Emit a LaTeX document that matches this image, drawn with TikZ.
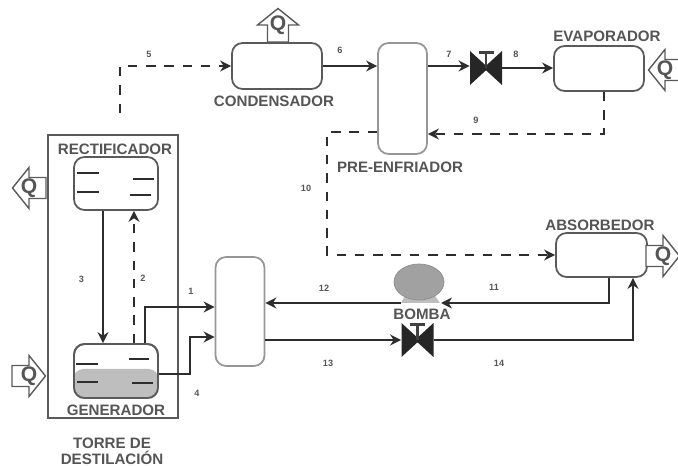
\documentclass[tikz,border=0pt]{standalone}
\usepackage{fontspec}
\setsansfont{Liberation Sans}
\usetikzlibrary{arrows.meta, calc, shapes.geometric}

\definecolor{mTxt}{RGB}{85,85,85}
\definecolor{mEdge}{RGB}{90,90,90}
\definecolor{mPale}{RGB}{150,150,150}
\definecolor{mFill}{RGB}{190,190,190}
\definecolor{mLine}{RGB}{45,45,45}

\begin{document}
\begin{tikzpicture}[
    font=\sffamily\bfseries\fontsize{8.6}{10}\selectfont,
    lbl/.style={text=mTxt, inner sep=0pt},
    num/.style={text=mTxt, inner sep=0pt, font=\sffamily\bfseries\fontsize{5.2}{6}\selectfont},
    unit/.style={draw=mEdge, line width=1pt, rounded corners=6pt, inner sep=0pt, fill=white},
    palebox/.style={draw=mPale, line width=1pt, rounded corners=6pt, inner sep=0pt, fill=white},
    flow/.style={-{Stealth[length=2.2mm,width=2.2mm]}, line width=1.05pt, draw=mLine},
    dashflow/.style={-{Stealth[length=2.2mm,width=2.2mm]}, line width=1.05pt, draw=mLine, dash pattern=on 5.4pt off 5pt},
    tray/.style={line width=0.9pt, draw=mLine},
    qarrow/.pic={
        \draw[draw=mEdge, line width=0.8pt, fill=white] (-0.34,-0.21) -- (0,-0.21) -- (0,-0.41) -- (0.33,0)
            -- (0,0.41) -- (0,0.21) -- (-0.34,0.21) -- cycle;
        \node[text=mTxt, inner sep=0pt, font=\sffamily\bfseries\fontsize{12}{12}\selectfont] (-q) at (0,0) {Q};
    },
    valve/.style={minimum width=6.4mm, minimum height=6.8mm, inner sep=0pt,
        path picture={
            \fill[black!85] (path picture bounding box.north west) -- ($(path picture bounding box.center)+(0.05,0)$)
                -- (path picture bounding box.south west) -- cycle;
            \fill[black!85] (path picture bounding box.north east) -- ($(path picture bounding box.center)+(-0.05,0)$)
                -- (path picture bounding box.south east) -- cycle;
            \draw[black!75, line width=1.6pt] (path picture bounding box.center) -- ($(path picture bounding box.north)+(0,-0.03)$);
            \draw[black!75, line width=1.3pt] ($(path picture bounding box.north)+(-0.15,-0.03)$) -- ($(path picture bounding box.north)+(0.15,-0.03)$);
        }},
]
\useasboundingbox (0,0) rectangle (13.56,9.32);

% Torre de destilacion
\node[draw=mEdge, line width=0.7pt, minimum width=26mm, minimum height=56.6mm, inner sep=0pt] (torre) at (2.26,3.79) {};
\node[unit, minimum width=16.8mm, minimum height=10.6mm] (rect) at (2.32,5.65) {};
\node[unit, minimum width=16.8mm, minimum height=10.8mm] (gen) at (2.32,1.90) {};

% gray liquid level in the generator
\fill[mFill, rounded corners=6pt] (gen.south west) -- (gen.west |- 0,1.94) -- (gen.east |- 0,1.94) -- (gen.south east) -- cycle;
\node[draw=mEdge, line width=1pt, rounded corners=6pt, inner sep=0pt, minimum width=16.8mm, minimum height=10.8mm] (genb) at (gen) {};

% trays
\foreach \xa/\xb/\y in {1.54/1.98/5.86, 1.54/1.98/5.48, 2.66/3.08/5.74, 2.60/3.02/5.42} {
    \draw[tray] (\xa,\y) -- (\xb,\y);
}
\foreach \xa/\xb/\y in {1.52/1.96/2.04, 1.54/1.96/1.68, 2.57/2.98/2.14, 2.63/3.05/1.66} {
    \draw[tray] (\xa,\y) -- (\xb,\y);
}

% Other units
\node[unit, minimum width=18mm, minimum height=9.2mm] (cond) at (5.54,8.00) {};
\node[palebox, minimum width=9.8mm, minimum height=22.2mm] (pre) at (8.05,7.35) {};
\node[unit, minimum width=18mm, minimum height=9mm] (evap) at (11.98,7.95) {};
\node[unit, minimum width=18.2mm, minimum height=8.8mm] (abs) at (12.03,4.22) {};
\node[palebox, minimum width=9.8mm, minimum height=21.8mm] (inter) at (4.80,3.09) {};
\node[valve] (val1) at (9.72,7.96) {};
\node[valve] (val2) at (8.35,2.52) {};

% Pump
\fill[mFill] (8.02,3.26) -- (8.16,3.52) -- (8.62,3.52) -- (8.80,3.26) -- cycle;
\node[ellipse, draw=black!45, fill=mFill!85!black, line width=0.4pt, minimum width=10mm, minimum height=7.2mm, inner sep=0pt] (bomba) at (8.38,3.68) {};

% Q arrows
\pic[rotate=180] (qa) at (0.58,5.56) {qarrow};
\pic (qb) at (0.58,1.80) {qarrow};
\pic[rotate=90] (qc) at (5.56,8.82) {qarrow};
\pic[rotate=180] (qd) at (13.30,7.92) {qarrow};
\pic (qe) at (13.26,4.20) {qarrow};

% Connectors
\coordinate (start5) at (2.40,7.06);
\draw[dashflow] (start5) |- (cond.west);
\draw[flow] (cond.east) -- (cond.east -| pre.west);
\draw[flow] (cond.east -| pre.east) -- (cond.east -| val1.west);
\draw[flow] (val1.east) -- (val1.east -| evap.west);
\coordinate (turn9) at (12.08,6.64);
\draw[dashflow] (turn9 |- evap.south) -- (turn9) -- (turn9 -| pre.east);
\coordinate (turn10) at (6.54,6.68);
\draw[dashflow] (turn10 -| pre.west) -- (turn10) |- (abs.west);
\coordinate (turn11) at (12.18,3.26);
\draw[flow] (turn11 |- abs.south) -- (turn11) -- (8.82,3.26);
\draw[flow] (8.02,3.26) -- (8.02,3.26 -| inter.east);
\draw[flow] (val2.west -| inter.east) -- (val2.west);
\coordinate (turn14) at (12.66,2.52);
\draw[flow] (val2.east) -- (turn14) -- (turn14 |- abs.south);
\coordinate (turn1) at (2.90,3.18);
\draw[flow] (turn1 |- gen.north) -- (turn1) -- (turn1 -| inter.west);
\coordinate (turn4a) at (3.80,1.84);
\coordinate (turn4b) at (3.80,2.58);
\draw[flow] (turn4a -| gen.east) -- (turn4a) -- (turn4b) -- (turn4b -| inter.west);
\coordinate (col3) at (2.06,0);
\draw[flow] (col3 |- rect.south) -- (col3 |- gen.north);
\coordinate (col2) at (2.68,0);
\draw[dashflow] (col2 |- gen.north) -- (col2 |- rect.south);

% Numbers
\foreach \t/\x/\y in {1/3.82/3.50, 2/2.86/3.76, 3/1.63/3.73, 4/3.94/1.46, 5/2.98/8.24, 6/6.80/8.32,
    7/8.98/8.24, 8/10.32/8.24, 9/9.52/6.92, 10/6.12/5.56, 11/9.88/3.58, 12/6.48/3.56, 13/6.56/2.06, 14/9.98/2.06} {
    \node[num] (n\t) at (\x,\y) {\t};
}

% Labels
\node[lbl] (tRect) at (2.30,6.34) {RECTIFICADOR};
\node[lbl] (tGen) at (2.32,1.12) {GENERADOR};
\node[lbl] (tTorre) at (2.24,0.46) {TORRE DE};
\node[lbl] (tDest) at (2.24,0.17) {DESTILACIÓN};
\node[lbl] (tCond) at (5.48,7.30) {CONDENSADOR};
\node[lbl] (tPre) at (8.00,5.98) {PRE-ENFRIADOR};
\node[lbl] (tEvap) at (12.14,8.60) {EVAPORADOR};
\node[lbl] (tAbs) at (12.00,4.82) {ABSORBEDOR};
\node[lbl] (tBomba) at (8.44,3.04) {BOMBA};

\end{tikzpicture}
\end{document}
